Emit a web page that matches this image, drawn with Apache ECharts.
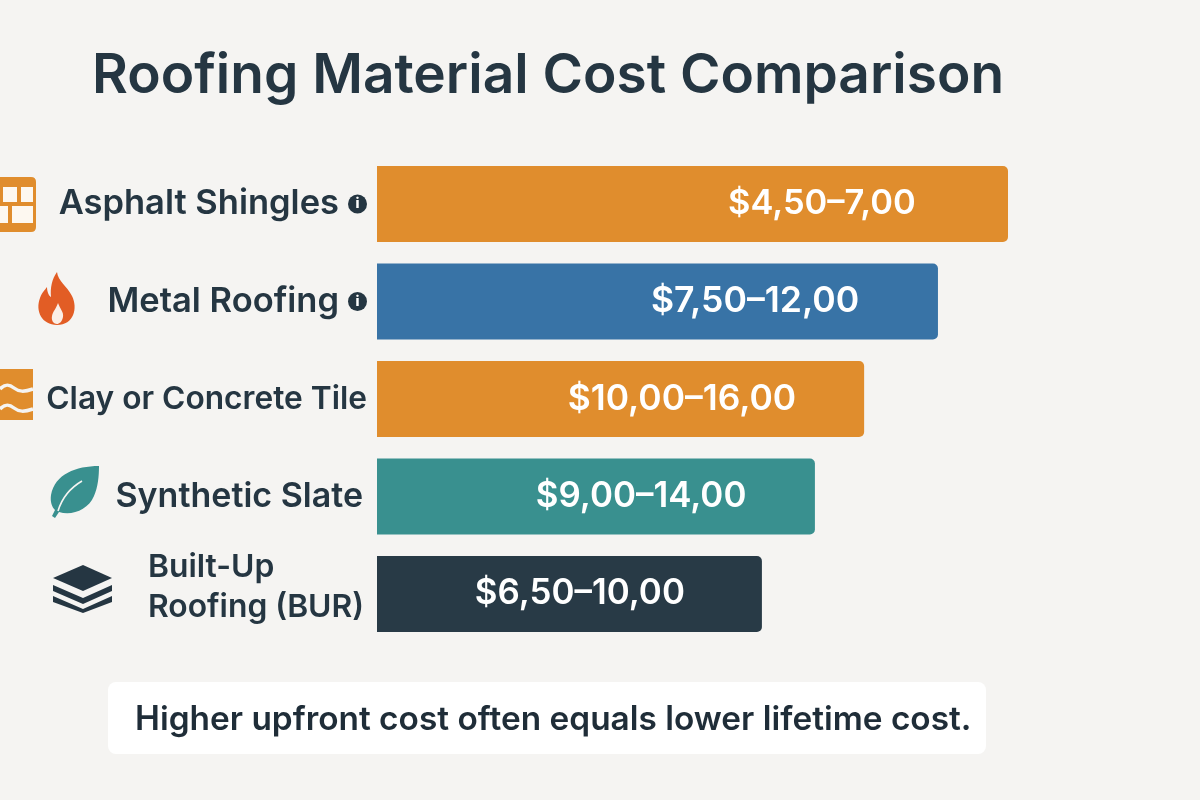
<!DOCTYPE html>
<html><head><meta charset="utf-8">
<style>html,body{margin:0;padding:0;background:#f5f4f2}#c{width:1200px;height:800px}</style>
<script src="https://cdn.jsdelivr.net/npm/echarts@6/dist/echarts.min.js"></script>
</head><body><div id="c"></div>
<script>
const categories = ['Asphalt Shingles','Metal Roofing','Clay or Concrete Tile','Synthetic Slate','Built-Up\nRoofing (BUR)'];
const barLengthIndex = [100, 88.9, 77.2, 69.4, 61.0];
const priceLabels = ['$4,50–7,00','$7,50–12,00','$10,00–16,00','$9,00–14,00','$6,50–10,00'];
const barColors = ['#E08D2D','#3873A6','#E08D2D','#39908F','#283A46'];
const labelCentres = ['70.5%','67.4%','62.6%','60.3%','52.7%'];
const labelSizes = [34.5,35.6,35.4,34.9,34.9];
const infoFlags = [true,true,false,false,false];
const titleText = 'Roofing Material Cost Comparison';
const noteText = 'Higher upfront cost often equals lower lifetime cost.';

const ink = '#253642';
const pale = '#fdf8f0';
const bg = '#f5f4f2';
const iconParts = [
  [
    {d:'M-9 177 H31 Q36 177 36 182 V227 Q36 232 31 232 H-9 Z',fill:'#E08D2D'},
    {d:'M3 187 H17 V202 H3 Z',fill:pale},
    {d:'M21 187 H33 V202 H21 Z',fill:pale},
    {d:'M-2 206 H8 V223 H-2 Z',fill:pale},
    {d:'M12 206 H33 V223 H12 Z',fill:pale}
  ],
  [
    {d:'M57 272 C58 281 67 286 72 296 C78 308 74 325 57 325 C42 325 35 311 40 298 C42 292 45 290 47 287 C47 292 49 296 51 297 C50 288 52 279 57 272 Z',fill:'#E25D25'},
    {d:'M58 303 C60 309 64 312 63 317 C62 322 59 324 57 324 C54 324 51 321 52 316 C53 311 56 309 58 303 Z',fill:'#fbeee6'}
  ],
  [
    {d:'M0 369 H33 V420 H0 Z',fill:'#E08D2D'},
    {d:'M0 389 C5 384 9 384 14 388 C19 392 24 392 33 389',stroke:bg,lw:3.5},
    {d:'M0 409 C5 404 9 404 14 408 C19 412 24 412 33 409',stroke:bg,lw:3.5}
  ],
  [
    {d:'M99 466 C76 466 55 474 51 495 C50 502 52 507 55 510 L52 516 L55 518 L59 512 C72 516 88 510 94 496 C98 487 99 476 99 466 Z',fill:'#39908F'},
    {d:'M82 481 C70 488 62 498 58 511',stroke:bg,lw:1.6}
  ],
  [
    {d:'M83 565 L112 578 L83 591 L53 578 Z',fill:ink},
    {d:'M53 585 L83 598 L112 585 L112 591 L83 604 L53 591 Z',fill:ink},
    {d:'M53 596 L83 609 L112 596 L112 602 L83 613 L53 602 Z',fill:ink}
  ]
];

const chart = echarts.init(document.getElementById('c'));
chart.setOption({
  backgroundColor:bg,
  animation:false,
  textStyle:{fontFamily:'Inter'},
  title:[
    {text:titleText,left:87,top:44,textStyle:{fontFamily:'Inter',fontSize:55,fontWeight:600,color:ink}},
    {text:noteText,left:130,top:698,textStyle:{fontFamily:'Inter',fontSize:33.4,fontWeight:600,color:'#1f2d38'}}
  ],
  grid:{left:377,top:155.25,width:631,height:487.5},
  xAxis:{type:'value',min:0,max:100,show:false},
  yAxis:{type:'category',inverse:true,data:categories,
    axisLine:{show:false},axisTick:{show:false},
    axisLabel:{margin:10,align:'right',
      formatter:(v,i)=>{
        if(i===4) return v.split('\n').map(s=>'{b|'+s+'}').join('\n')+'\n{sp|}';
        if(infoFlags[i]) return '{a|'+v+'}{g|}{i|i}';
        if(i===3) return '{s|'+v+'}{p|}';
        return '{c|'+v+'}';
      },
      rich:{
        a:{fontFamily:'Inter',fontSize:34.5,fontWeight:600,color:ink},
        c:{fontFamily:'Inter',fontSize:31.7,fontWeight:600,color:ink},
        s:{fontFamily:'Inter',fontSize:34,fontWeight:600,color:ink},
        p:{width:4},
        g:{width:9},
        sp:{lineHeight:14,height:14,fontSize:1},
        b:{fontFamily:'Inter',fontSize:31.8,fontWeight:600,color:ink,lineHeight:40,width:219,align:'left'},
        i:{width:19,height:19,align:'center',lineHeight:19,backgroundColor:ink,borderRadius:10,color:'#fff',fontSize:14,fontWeight:800,fontFamily:'Inter'}
      }}},
  series:[{type:'bar',barWidth:76,
    data:barLengthIndex.map((v,i)=>({value:v,
      itemStyle:{color:barColors[i],borderRadius:[0,5,5,0]},
      label:{show:true,position:[labelCentres[i],'50%'],align:'center',verticalAlign:'middle',
        formatter:priceLabels[i],fontFamily:'Inter',fontSize:labelSizes[i],fontWeight:600,color:'#fff'}}))
  },{type:'custom',clip:false,silent:true,coordinateSystem:'none',
    data:categories.map((c,i)=>i),
    renderItem:(p)=>({type:'group',children:iconParts[p.dataIndex].map(o=>({
      type:'path',shape:{pathData:o.d},
      style:o.stroke?{fill:null,stroke:o.stroke,lineWidth:o.lw}:{fill:o.fill}
    }))})
  }],
  graphic:[
    {type:'rect',z:-1,shape:{x:108,y:682,width:878,height:72,r:8},style:{fill:'#fff'}}
  ]
});
</script></body></html>
